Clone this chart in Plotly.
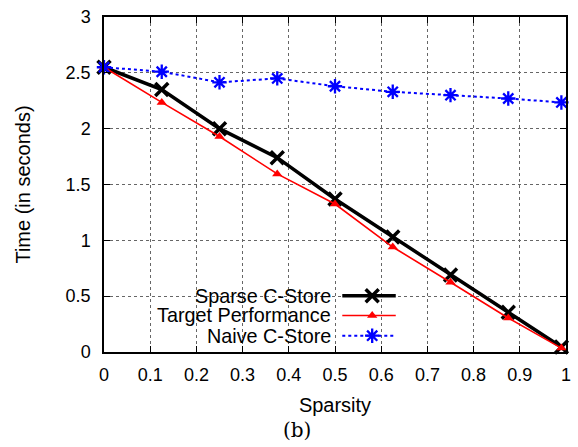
import plotly.graph_objects as go

sparsity = [0, 0.125, 0.25, 0.375, 0.5, 0.625, 0.75, 0.875, 0.99]
sparse_cstore = [2.55, 2.35, 2.00, 1.74, 1.37, 1.03, 0.69, 0.355, 0.045]
target_perf = [2.55, 2.235, 1.93, 1.595, 1.325, 0.94, 0.625, 0.305, 0.035]
naive_cstore = [2.55, 2.51, 2.415, 2.45, 2.38, 2.33, 2.30, 2.27, 2.235]
series_names = ["Sparse C-Store", "Target Performance", "Naive C-Store"]

W, H = 578, 447
L, R, T, B = 104.4, 7.1, 13, 95
PW, PH = W - L - R, H - T - B

def px_x(p):
    return (p - L) / PW

def px_y(p):
    return (H - B - p) / PH

FONT = "Liberation Sans, Arial, sans-serif"

styles = [
    dict(line=dict(color="black", width=3.5),
         marker=dict(symbol="x-thin-open", size=13, color="black", line=dict(color="black", width=3.5))),
    dict(line=dict(color="red", width=1.6),
         marker=dict(symbol="triangle-up", size=9, color="red", line=dict(width=0))),
    dict(line=dict(color="blue", width=2, dash="dot"),
         marker=dict(symbol="asterisk-open", size=12, color="blue", line=dict(color="blue", width=2.3))),
]
values = [sparse_cstore, target_perf, naive_cstore]

fig = go.Figure()
for name, vals, st in zip(series_names, values, styles):
    fig.add_trace(go.Scatter(x=sparsity, y=vals, name=name, mode="lines+markers",
                             line=st["line"], marker=st["marker"], cliponaxis=False,
                             showlegend=False))

# legend rows (gnuplot style: text right-aligned, sample on the right)
row_y = [295, 315, 335.5]
legend_names = ["legend", "legend2", "legend3"]
shapes = [dict(type="rect", xref="paper", yref="paper", x0=px_x(115), x1=px_x(412),
               y0=0, y1=px_y(286), fillcolor="white", line=dict(width=0), layer="between")]
annotations = []
layout_legends = {}
for i, (name, st) in enumerate(zip(series_names, styles)):
    fig.add_trace(go.Scatter(x=[None], y=[None], name="", mode="markers",
                             marker=st["marker"], showlegend=True, legend=legend_names[i]))
    shapes.append(dict(type="line", xref="paper", yref="paper", x0=px_x(345), x1=px_x(399),
                       y0=px_y(row_y[i]), y1=px_y(row_y[i]),
                       line=dict(color=st["line"]["color"], width=st["line"]["width"],
                                 dash=st["line"].get("dash", "solid")), layer="above"))
    annotations.append(dict(x=px_x(336), y=px_y(row_y[i]), xref="paper", yref="paper",
                            text=name, showarrow=False, xanchor="right", yanchor="middle",
                            font=dict(family=FONT, size=19.8, color="black")))
    layout_legends[legend_names[i]] = dict(x=px_x(375 - 20), xanchor="left", y=px_y(row_y[i]),
                                           yanchor="middle", bgcolor="rgba(0,0,0,0)",
                                           borderwidth=0, font=dict(size=10))

annotations.append(dict(x=px_x(299), y=px_y(431), xref="paper", yref="paper", text="(b)",
                        showarrow=False, xanchor="center", yanchor="middle",
                        font=dict(family="DejaVu Serif, serif", size=20, color="black")))

axis_common = dict(showline=True, linecolor="black", linewidth=1.5, mirror="allticks",
                   ticks="inside", ticklen=6, tickwidth=1, tickcolor="black",
                   showgrid=True, gridcolor="#666", griddash="dot", gridwidth=1,
                   zeroline=False, tickfont=dict(family=FONT, size=18, color="black"))

fig.update_layout(
    width=W, height=H, margin=dict(l=L, r=R, t=T, b=B),
    paper_bgcolor="white", plot_bgcolor="white",
    font=dict(family=FONT, color="black"),
    xaxis=dict(range=[0, 1], dtick=0.1, tick0=0, ticklabelstandoff=6,
               title=dict(text="Sparsity", font=dict(family=FONT, size=20), standoff=14),
               **axis_common),
    yaxis=dict(range=[0, 3], dtick=0.5, tick0=0, ticklabelstandoff=8,
               title=dict(text="Time (in seconds)", font=dict(family=FONT, size=20), standoff=30),
               **axis_common),
    shapes=shapes, annotations=annotations,
    **layout_legends,
)

fig.write_html("out.html", config={"displayModeBar": False},
               post_script="document.body.style.margin='0';document.body.style.padding='0';")
